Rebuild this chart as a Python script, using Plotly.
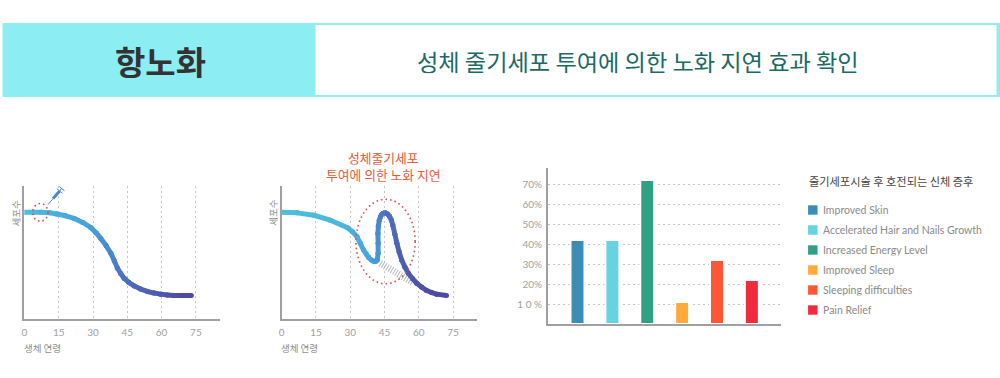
import plotly.graph_objects as go

KR = "Noto Sans CJK KR"
LAT = "Lato"

# ---- data ----
age_ticks = [0, 15, 30, 45, 60, 75]
age_normal = [0, 4, 7.3, 11, 14.1, 18, 21.8, 25.5, 29, 31.3, 33.4, 35.7, 37.8, 39.3, 40.7, 42.1, 43.6, 45.6, 48, 50.8, 53.8, 56.7, 59.6, 62.5, 65.4, 69, 73]
cells_normal = [80.3, 80.3, 80.3, 79.9, 79, 77.6, 75.6, 72.6, 68.8, 64.9, 60.6, 55.2, 49.4, 43.8, 38.2, 34.2, 30.7, 27.6, 24.9, 22.5, 20.7, 19.5, 18.7, 18.1, 17.7, 17.6, 17.6]
age_treated = [0, 6.8, 14.1, 21.3, 28.6, 31, 33, 34.4, 35.8, 37, 38, 39.2, 40.2, 41.2, 41.8, 42.2, 42.2, 42.1, 42.3, 42.7, 43.2, 43.8, 44.5, 45.3, 46.3, 47.2, 48, 48.6, 49.5, 50.4, 51.4, 52.5, 53.9, 55.4, 57.2, 59.1, 61.2, 63.4, 65.6, 67.8, 72.1]
cells_treated = [80.3, 79.8, 78, 74.3, 68.8, 65.6, 61.8, 56.9, 51.9, 48.8, 46.4, 44.4, 43.4, 43.4, 44.4, 49.4, 56.9, 64.3, 69.8, 74.3, 76.9, 78.8, 79.6, 79.8, 79, 77.3, 74.3, 70.6, 63.9, 56.9, 50.4, 44.4, 39.1, 34.4, 30.4, 26.9, 24, 21.4, 19.9, 18.7, 17.7]
hatch_age = [43.2, 57.8]
hatch_cells = [42, 27]
symptoms = ["Improved Skin", "Accelerated Hair and Nails Growth", "Increased Energy Level",
            "Improved Sleep", "Sleeping difficulties", "Pain Relief"]
percents = [42, 42, 72, 11, 32, 22]
pct_ticks = [10, 20, 30, 40, 50, 60, 70]
pct_labels = ["1 0 %", "20%", "30%", "40%", "50%", "60%", "70%"]
bar_colors = ["#3B8DB5", "#66D2E2", "#31A185", "#FFAA3A", "#FF5635", "#F12B3D"]
header_left = "항노화"
header_right = "성체 줄기세포 투여에 의한 노화 지연 효과 확인"
callout_lines = ["성체줄기세포", "투여에 의한 노화 지연"]
legend_title = "줄기세포시술 후 호전되는 신체 증후"
x_title = "생체 연령"
y_title = "세포수"

W, H = 1000, 378
def px(x): return (x - 1.5) / W
def py(y): return 1 - y / H

def mix(t):
    stops = [(0.0, (76, 190, 222)), (0.3, (70, 160, 216)), (0.55, (78, 118, 198)), (1.0, (78, 72, 160))]
    for (a, ca), (b, cb) in zip(stops, stops[1:]):
        if t <= b:
            f = (t - a) / (b - a)
            return "rgb(%d,%d,%d)" % tuple(ca[i] + (cb[i] - ca[i]) * f for i in range(3))
    return "rgb(78,72,160)"

fig = go.Figure()

def curve(xs, ys, xa, ya):
    n = len(xs)
    for i in range(n - 1):
        col = mix(i / (n - 1))
        fig.add_trace(go.Scatter(x=xs[i:i + 2], y=ys[i:i + 2], xaxis=xa, yaxis=ya, mode="lines+markers",
                                 line=dict(color=col, width=5), marker=dict(color=col, size=5),
                                 hoverinfo="skip", showlegend=False))

# hatch under treated curve
fig.add_trace(go.Scatter(x=hatch_age, y=hatch_cells, xaxis="x2", yaxis="y2", mode="lines",
                         line=dict(color="#B5B9BC", width=7, dash="1px,1.6px"), showlegend=False, hoverinfo="skip"))
curve(age_normal, cells_normal, "x", "y")
curve(age_treated, cells_treated, "x2", "y2")

# bars
fig.add_trace(go.Bar(x=symptoms, y=percents, xaxis="x3", yaxis="y3", width=0.4,
                     marker=dict(color=bar_colors, line=dict(color="white", width=2)),
                     showlegend=False))

tickf = dict(family=LAT, size=10, color="#A0A0A0")
line_kw = dict(showline=True, linecolor="#A0A0A0", linewidth=1.6, zeroline=False, ticks="")
GRID = dict(gridcolor="#C4C4C4", griddash="2px,3px", gridwidth=1.2)
for xa, ya, x0, x1 in (("xaxis", "yaxis", 23, 219), ("xaxis2", "yaxis2", 281, 477)):
    fig.layout[xa] = dict(domain=[px(x0), px(x1)], range=[0, 196 / 2.293], tickvals=age_ticks, showgrid=True,
                          tickfont=tickf, anchor=ya.replace("axis", ""), ticklabelstandoff=3, **GRID, **line_kw)
    fig.layout[ya] = dict(domain=[py(319), py(186)], range=[0, 100], showgrid=False, showticklabels=False,
                          anchor=xa.replace("axis", ""), **line_kw)
fig.layout["xaxis3"] = dict(domain=[px(548), px(782)], range=[-0.85, 5.84], showgrid=False, showticklabels=False,
                            anchor="y3", categoryorder="array", categoryarray=symptoms, **line_kw)
fig.layout["yaxis3"] = dict(domain=[py(324), py(168)], range=[0, 78], tickvals=pct_ticks, ticktext=pct_labels,
                            showgrid=True, tickfont=tickf, anchor="x3", ticklabelstandoff=2, **GRID, **line_kw)

shapes = [
    dict(type="rect", xref="paper", yref="paper", x0=px(1), x1=px(1002), y0=py(97), y1=py(23),
         fillcolor="#8CEEF2", line_width=0, layer="below"),
    dict(type="rect", xref="paper", yref="paper", x0=px(315), x1=px(998), y0=py(95), y1=py(25),
         fillcolor="white", line_width=0, layer="below"),
    # injection marker and callout rings
    dict(type="circle", xref="x", yref="y", x0=3.6, x1=10.3, y0=73.5, y1=86.8,
         line=dict(color="#D9534F", width=1.6, dash="1.6px,3px")),
    dict(type="circle", xref="x2", yref="y2", x0=32.5, x1=58.4, y0=26.5, y1=90,
         line=dict(color="#D9534F", width=1.6, dash="1.6px,3px")),
    # syringe
    dict(type="line", xref="x", yref="y", x0=10.3, x1=12.5, y0=86, y1=90.5, line=dict(color="#4C84C9", width=1)),
    dict(type="line", xref="x", yref="y", x0=12.5, x1=15.3, y0=90.5, y1=96, line=dict(color="#4C84C9", width=3)),
    dict(type="line", xref="x", yref="y", x0=15.3, x1=16.3, y0=96, y1=98.5, line=dict(color="#4C84C9", width=1)),
    dict(type="line", xref="x", yref="y", x0=14.2, x1=16.6, y0=98, y1=94.5, line=dict(color="#4C84C9", width=1)),
    dict(type="line", xref="x", yref="y", x0=15.3, x1=17.5, y0=99.5, y1=96.5, line=dict(color="#4C84C9", width=1)),
]
ann = []
def text(x, y, t, size, color, family=KR, anchor="center", angle=0, bold=False):
    ann.append(dict(xref="paper", yref="paper", x=px(x), y=py(y), text=("<b>%s</b>" % t) if bold else t, showarrow=False,
                    xanchor=anchor, yanchor="middle", textangle=angle, align="center",
                    font=dict(family=family, size=size, color=color), borderpad=0, height=size + 1))

text(159, 61, header_left, 33, "#333333", bold=True)
text(638, 61, header_right, 23.2, "#1B6A66")
text(383, 158, callout_lines[0], 12.8, "#E65A38")
text(383, 174.5, callout_lines[1], 12.8, "#E65A38")
for x0 in (23, 281):
    text(x0 + 18, 348, x_title, 9.5, "#8E8E8E")
    text(x0 - 9, 213, y_title, 9.5, "#8E8E8E", angle=-90)
text(892, 181, legend_title, 11.2, "#444444")
for i, (s, c) in enumerate(zip(symptoms, bar_colors)):
    yc = 210 + i * 20
    shapes.append(dict(type="rect", xref="paper", yref="paper", x0=px(809), x1=px(818.5), y0=py(yc + 4.7), y1=py(yc - 4.7),
                       fillcolor=c, line_width=0))
    text(823, yc, s, 10.5, "#8A8A8A", family=LAT, anchor="left")

fig.update_layout(width=W, height=H, margin=dict(l=0, r=0, t=0, b=0), paper_bgcolor="white", plot_bgcolor="white",
                  autosize=False, showlegend=False, shapes=shapes, annotations=ann, font=dict(family=LAT))
fig.write_html("out.html", config=dict(displayModeBar=False),
               post_script="document.body.style.margin='0';document.documentElement.style.overflow='hidden';")
